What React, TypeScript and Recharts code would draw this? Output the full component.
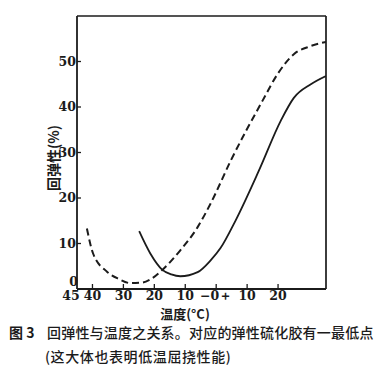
import { LineChart, Line, XAxis, YAxis, CartesianGrid } from 'recharts';

// 回弹性 vs 温度 — two vulcanizates (dashed / solid)
const dashedTemp = [-41.8, -39.8, -35.3, -31.5, -27.8, -24, -21.3, -17.4, -11.6, -6.0, -1.8, 4.7, 15.0, 19.9, 25.1, 30.6, 35.5];
const dashedRes = [13.3, 7.8, 3.8, 2.2, 1.3, 1.4, 2.1, 4.2, 8.5, 13.6, 18.8, 28.2, 41.4, 47.3, 51.6, 53.4, 54.3];

const solidTemp = [-24.9, -21.3, -17.4, -14.5, -11.6, -6.0, -1.8, 1.4, 6.3, 13.8, 20.9, 25.1, 30.6, 35.5];
const solidRes = [12.7, 7.8, 4.2, 3.2, 2.8, 3.7, 6.3, 9.0, 15.1, 26.0, 37.0, 42.0, 45.0, 46.8];

const xTicks = [-45, -40, -30, -20, -10, 0, 10, 20];
const yTicks = [0, 10, 20, 30, 40, 50];
const X_MAX = 35.5;
const Y_MAX = 60;

const dashedData = dashedTemp.map((t, i) => ({ t, r: dashedRes[i] }));
const solidData = solidTemp.map((t, i) => ({ t, r: solidRes[i] }));

const INK = '#1b1b1b';
const numFont = 'DejaVu Serif';
const cjkFont = 'Noto Sans CJK SC';

function xLabel(v: number) {
  if (v === 0) return '−0＋';
  return String(Math.abs(v));
}

const XTick = (props: any) => {
  const { x, y, payload } = props;
  const v = payload.value;
  return (
    <g>
      {v !== -45 && <line x1={x} y1={y} x2={x} y2={y - 5} stroke={INK} strokeWidth={1.3} />}
      <text
        x={v === -45 ? x - 6 : x}
        y={y + 11}
        textAnchor="middle"
        fontFamily={numFont}
        fontWeight="bold"
        fontSize={12.5}
        fill={INK}
      >
        {xLabel(v)}
      </text>
    </g>
  );
};

const YTick = (props: any) => {
  const { x, y, payload } = props;
  const v = payload.value;
  return (
    <g>
      {v !== 0 && <line x1={x} y1={y} x2={x + 4} y2={y} stroke={INK} strokeWidth={1.3} />}
      <text
        x={v === 0 ? x + 1 : x - 1}
        y={v === 0 ? y - 3 : y + 4}
        textAnchor="end"
        fontFamily={numFont}
        fontWeight="bold"
        fontSize={12.5}
        fill={INK}
      >
        {v}
      </text>
    </g>
  );
};

export default function App() {
  return (
    <div style={{ position: 'absolute', left: 0, top: 0, width: 379, height: 379, background: '#fff' }}>
      <LineChart width={379} height={379} margin={{ top: 16, right: 53, bottom: 60, left: 47 }}>
        <CartesianGrid
          horizontalValues={[Y_MAX]}
          verticalValues={[X_MAX]}
          stroke={INK}
          strokeWidth={1.7}
          fill="none"
        />
        <XAxis
          dataKey="t"
          type="number"
          domain={[-45, X_MAX]}
          ticks={xTicks}
          interval={0}
          allowDataOverflow
          tick={<XTick />}
          tickLine={false}
          tickSize={0}
          tickMargin={0}
          axisLine={{ stroke: INK, strokeWidth: 1.8 }}
          height={30}
        />
        <YAxis
          type="number"
          domain={[0, Y_MAX]}
          ticks={yTicks}
          interval={0}
          tick={<YTick />}
          tickLine={false}
          tickSize={0}
          tickMargin={0}
          axisLine={{ stroke: INK, strokeWidth: 1.8 }}
          width={30}
        />
        <Line
          data={dashedData}
          dataKey="r"
          type="monotone"
          stroke={INK}
          strokeWidth={2}
          strokeDasharray="7 4"
          dot={false}
          isAnimationActive={false}
        />
        <Line
          data={solidData}
          dataKey="r"
          type="monotone"
          stroke={INK}
          strokeWidth={1.8}
          dot={false}
          isAnimationActive={false}
        />
      </LineChart>
      <svg
        width={379}
        height={379}
        style={{ position: 'absolute', left: 0, top: 0, pointerEvents: 'none' }}
      >
        <text
          x={53}
          y={158}
          transform="rotate(-90, 53, 158)"
          textAnchor="middle"
          dominantBaseline="central"
          fontFamily={cjkFont}
          fontWeight="bold"
          fontSize={14}
          fill={INK}
        >
          回弹性(%)
        </text>
        <text
          x={185}
          y={319}
          textAnchor="middle"
          fontFamily={cjkFont}
          fontWeight="bold"
          fontSize={13}
          fill={INK}
        >
          温度(°C)
        </text>
        <text x={9} y={338} fontFamily={cjkFont} fontWeight="bold" fontSize={14} fill={INK}>
          图 3
        </text>
        <text x={47} y={338} fontFamily={cjkFont} fontWeight={500} fontSize={14} letterSpacing={0.2} fill={INK}>
          回弹性与温度之关系。对应的弹性硫化胶有一最低点
        </text>
        <text x={45} y={362} fontFamily={cjkFont} fontWeight={500} fontSize={14} letterSpacing={0.6} fill={INK}>
          (这大体也表明低温屈挠性能)
        </text>
      </svg>
    </div>
  );
}
